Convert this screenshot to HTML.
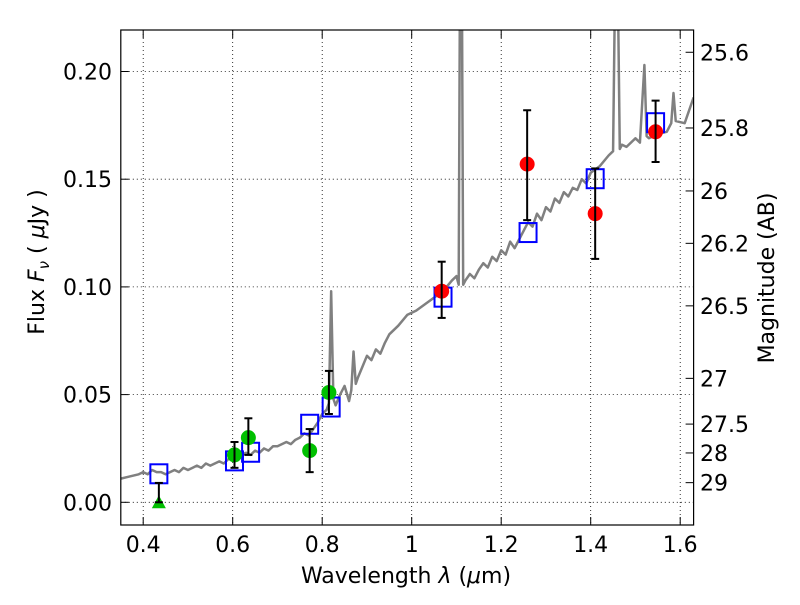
<!DOCTYPE html>
<html><head><meta charset="utf-8"><style>
body{margin:0;background:#fff;}
svg text{font-family:"DejaVu Sans","Liberation Sans",sans-serif;fill:#000;}
</style></head><body>
<svg id="chart" width="800" height="600" xmlns="http://www.w3.org/2000/svg">
<defs><clipPath id="clip"><rect x="120.8" y="30" width="572.8" height="495"/></clipPath></defs>
<rect width="800" height="600" fill="#fff"/>
<g id="grid"></g>
<g id="plot" clip-path="url(#clip)"></g>
<rect x="120.8" y="30" width="572.8" height="495" fill="none" stroke="#000" stroke-width="1.2"/>
<g id="axes"></g>
<text x="406" y="583" font-size="22" text-anchor="middle">Wavelength  <tspan font-style="italic">λ</tspan> (<tspan font-style="italic">μ</tspan>m)</text>
<text transform="translate(44,262) rotate(-90)" font-size="22" text-anchor="middle">Flux  <tspan font-style="italic">F</tspan><tspan font-style="italic" font-size="15" dy="5">ν</tspan><tspan dy="-5">  ( </tspan><tspan font-style="italic">μ</tspan>Jy )</text>
<text transform="translate(774,278) rotate(-90)" font-size="22" text-anchor="middle">Magnitude (AB)</text>
</svg>
<script>
const specWave=[0.35,0.37,0.39,0.40,0.41,0.42,0.43,0.44,0.45,0.46,0.47,0.48,0.49,0.50,0.51,0.52,0.53,0.54,0.55,0.56,0.57,0.58,0.59,0.60,0.61,0.62,0.63,0.64,0.65,0.66,0.67,0.68,0.69,0.70,0.71,0.72,0.73,0.74,0.75,0.76,0.77,0.78,0.79,0.80,0.81,0.815,0.82,0.825,0.83,0.84,0.85,0.86,0.865,0.87,0.875,0.88,0.89,0.9,0.91,0.92,0.93,0.94,0.95,0.97,0.99,1.01,1.03,1.05,1.07,1.09,1.1,1.105,1.108,1.112,1.115,1.12,1.13,1.14,1.15,1.16,1.17,1.18,1.19,1.2,1.21,1.22,1.23,1.24,1.25,1.26,1.27,1.28,1.29,1.3,1.31,1.32,1.33,1.34,1.35,1.36,1.37,1.38,1.39,1.4,1.42,1.44,1.45,1.455,1.46,1.465,1.47,1.48,1.5,1.51,1.52,1.525,1.53,1.55,1.57,1.58,1.585,1.59,1.61,1.63];
const specFlux=[0.011,0.012,0.013,0.014,0.013,0.015,0.014,0.014,0.013,0.014,0.015,0.014,0.016,0.015,0.016,0.017,0.016,0.018,0.017,0.018,0.019,0.018,0.020,0.021,0.020,0.022,0.023,0.022,0.024,0.023,0.025,0.024,0.026,0.026,0.027,0.028,0.027,0.029,0.030,0.032,0.031,0.034,0.037,0.041,0.043,0.046,0.098,0.048,0.045,0.050,0.054,0.047,0.052,0.070,0.055,0.058,0.063,0.068,0.066,0.071,0.069,0.074,0.078,0.082,0.087,0.089,0.092,0.095,0.098,0.103,0.105,0.101,0.25,0.25,0.101,0.103,0.106,0.104,0.108,0.111,0.109,0.114,0.112,0.117,0.115,0.121,0.118,0.122,0.126,0.130,0.128,0.134,0.131,0.137,0.135,0.141,0.139,0.144,0.142,0.146,0.145,0.150,0.148,0.153,0.156,0.161,0.163,0.25,0.25,0.164,0.166,0.165,0.169,0.167,0.203,0.170,0.169,0.171,0.172,0.176,0.190,0.177,0.176,0.188];
const modelWave=[0.435,0.604,0.64,0.772,0.82,1.07,1.26,1.41,1.545];
const modelFlux=[0.013,0.019,0.023,0.036,0.044,0.095,0.125,0.150,0.176];
const greenWave=[0.604,0.635,0.772,0.815];
const greenFlux=[0.022,0.030,0.024,0.051];
const greenLo=[0.016,0.022,0.014,0.041];
const greenHi=[0.028,0.039,0.034,0.061];
const redWave=[1.067,1.258,1.41,1.545];
const redFlux=[0.098,0.157,0.134,0.172];
const redLo=[0.0856,0.131,0.113,0.158];
const redHi=[0.1117,0.182,0.155,0.1865];
const limWave=[0.435];
const limFlux=[0.0];
const limHi=[0.009];
const xTicks=[0.4,0.6,0.8,1.0,1.2,1.4,1.6];
const xTickLabels=["0.4","0.6","0.8","1","1.2","1.4","1.6"];
const yTicks=[0.00,0.05,0.10,0.15,0.20];
const yTickLabels=["0.00","0.05","0.10","0.15","0.20"];
const magTicks=[25.6,25.8,26,26.2,26.5,27,27.5,28,29];
const magTickLabels=["25.6","25.8","26","26.2","26.5","27","27.5","28","29"];

const X=v=>411.7+(v-1)*447.5;
const Y=v=>502.3-v*2154;
const NS="http://www.w3.org/2000/svg";
function mk(tag,attrs,parent){const e=document.createElementNS(NS,tag);for(const k in attrs)e.setAttribute(k,attrs[k]);parent.appendChild(e);return e;}
const grid=document.getElementById('grid'),plot=document.getElementById('plot'),axes=document.getElementById('axes');
xTicks.forEach((t,i)=>{
 const g=mk('line',{x1:X(t),x2:X(t),y1:30,y2:525,stroke:'#000','stroke-width':0.8,'stroke-dasharray':'1,3'},grid);
 
 
 mk('line',{x1:X(t),x2:X(t),y1:525,y2:517,stroke:'#000'},axes);
 mk('line',{x1:X(t),x2:X(t),y1:30,y2:38,stroke:'#000'},axes);
 const l=mk('text',{x:X(t),y:552,'font-size':22,'text-anchor':'middle'},axes);
 l.textContent=xTickLabels[i];
 
 
});
yTicks.forEach((t,i)=>{
 const g=mk('line',{x1:120.8,x2:693.6,y1:Y(t),y2:Y(t),stroke:'#000','stroke-width':0.8,'stroke-dasharray':'1,3'},grid);
 
 
 mk('line',{x1:120.8,x2:128.8,y1:Y(t),y2:Y(t),stroke:'#000'},axes);
 const l=mk('text',{x:112,y:Y(t)+8,'font-size':22,'text-anchor':'end'},axes);
 l.textContent=yTickLabels[i];
 
 
});
magTicks.forEach((m,i)=>{
 const f=Math.pow(10,(23.9-m)/2.5);const y=Y(f);
 mk('line',{x1:685.6,x2:693.6,y1:y,y2:y,stroke:'#000'},axes);
 const l=mk('text',{x:700,y:y+8,'font-size':22},axes);
 l.textContent=magTickLabels[i];
 
 
});
const sp=mk('polyline',{points:specWave.map((w,i)=>X(w)+','+Y(specFlux[i])).join(' '),fill:'none',stroke:'#808080','stroke-width':2.5,'stroke-linejoin':'round'},plot);


function err(x,lo,hi){
 mk('line',{x1:X(x),x2:X(x),y1:Y(lo),y2:Y(hi),stroke:'#000','stroke-width':2},plot);
 mk('line',{x1:X(x)-4,x2:X(x)+4,y1:Y(lo),y2:Y(lo),stroke:'#000','stroke-width':2},plot);
 mk('line',{x1:X(x)-4,x2:X(x)+4,y1:Y(hi),y2:Y(hi),stroke:'#000','stroke-width':2},plot);
}
modelWave.forEach((w,i)=>{
 const r=mk('rect',{x:X(w)-8.5,y:Y(modelFlux[i])-10,width:17,height:19,fill:'none',stroke:'#0000ff','stroke-width':2},plot);
 
 
});
limWave.forEach((w,i)=>{
 const x=X(w),y=Y(limFlux[i]);
 const t=mk('polygon',{points:`${x},${y-7} ${x-7},${y+6} ${x+7},${y+6}`,fill:'#00c000'},plot);
 
 
 err(w,limFlux[i],limHi[i]);
});
greenWave.forEach((w,i)=>{
 const c=mk('circle',{cx:X(w),cy:Y(greenFlux[i]),r:7.5,fill:'#00c000'},plot);
 
 
 err(w,greenLo[i],greenHi[i]);
});
redWave.forEach((w,i)=>{
 const c=mk('circle',{cx:X(w),cy:Y(redFlux[i]),r:7.5,fill:'#ff0000'},plot);
 
 
 err(w,redLo[i],redHi[i]);
});
</script>
</body></html>
